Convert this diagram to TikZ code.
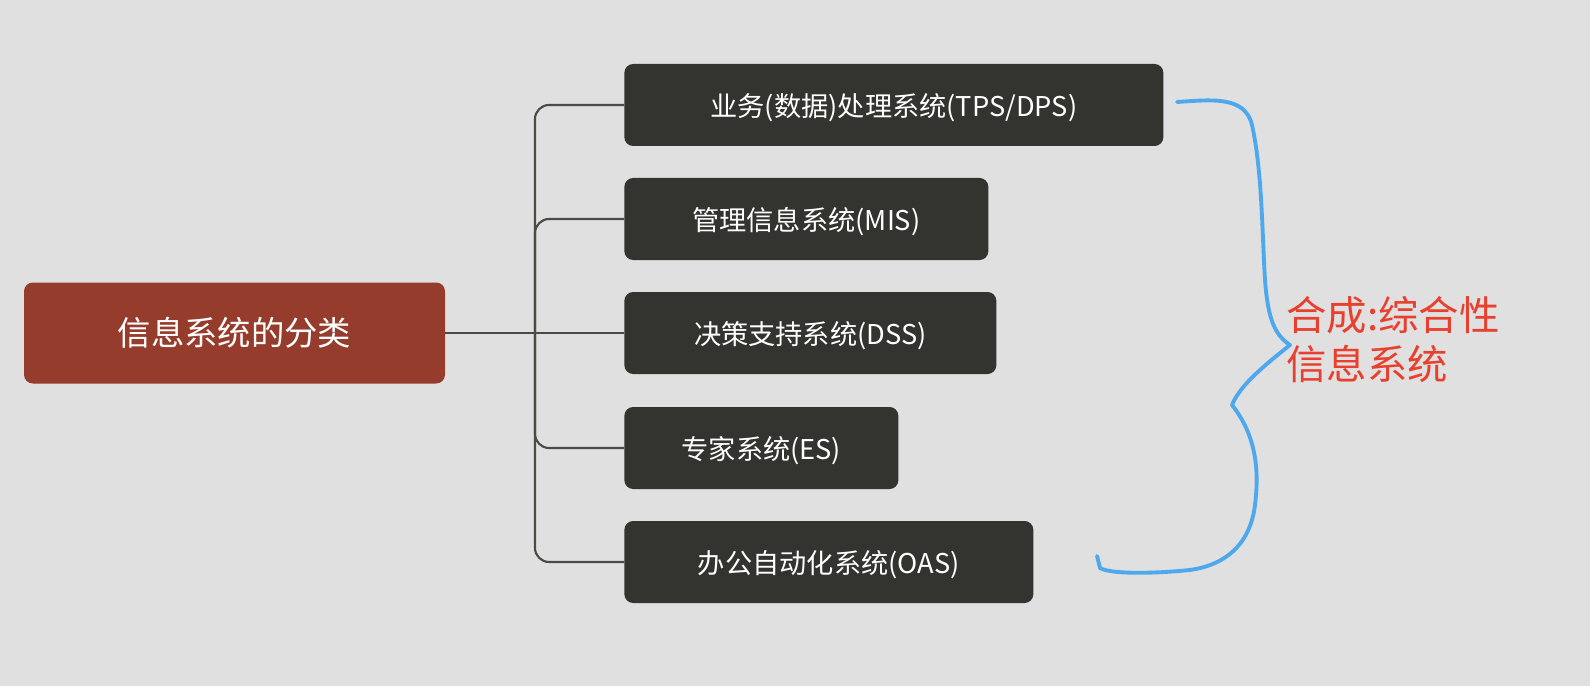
\documentclass[tikz,border=0pt]{standalone}
\usepackage{fontspec}
\setmainfont{Noto Sans CJK SC}
\usetikzlibrary{positioning}
\definecolor{bgcol}{HTML}{E0E0E0}
\definecolor{rootcol}{HTML}{963C2C}
\definecolor{boxcol}{HTML}{33332F}
\definecolor{linecol}{HTML}{4A4A46}
\definecolor{bracecol}{HTML}{4DA8EE}
\definecolor{notecol}{HTML}{E8402F}
\tikzset{
  rootbox/.style={fill=rootcol, rounded corners=5pt, text=white, font=\fontsize{19}{22}\selectfont, minimum width=421*0.02cm, minimum height=101*0.02cm},
  itembox/.style={fill=boxcol, rounded corners=5pt, text=white, font=\fontsize{15.5}{18}\selectfont, anchor=west, minimum height=82*0.02cm, text depth=0pt, inner xsep=0.7cm},
  branch/.style={linecol, line width=1.2pt, rounded corners=8pt}
}
\begin{document}
\begin{tikzpicture}[x=0.02cm, y=-0.02cm]
	% Fondo
		\fill[bgcol] (0,0) rectangle (1590,686);
		\useasboundingbox (0,0) rectangle (1590,686);
	% Nodos
		\node[rootbox] (root) at (234.5,333) {信息系统的分类};
		\node[itembox, minimum width=539*0.02cm] (tps) at (624,105) {业务(数据)处理系统(TPS/DPS)};
		\node[itembox, minimum width=364*0.02cm] (mis) at (624,219) {管理信息系统(MIS)};
		\node[itembox, minimum width=372*0.02cm] (dss) at (624,333) {决策支持系统(DSS)};
		\node[itembox, minimum width=274*0.02cm] (es) at (624,448) {专家系统(ES)};
		\node[itembox, minimum width=409*0.02cm] (oas) at (624,562) {办公自动化系统(OAS)};
		\coordinate (fork) at (535,333);
	% Conectores
		\draw[branch] (root.east) -- (dss.west);
		\draw[branch] (tps.west) -| (fork) |- (oas.west);
		\draw[branch] (mis.west) -| (fork);
		\draw[branch] (es.west) -| (fork);
	% Llave
		\draw[bracecol, line width=2.2pt, line cap=round, line join=round]
			(1177,102) .. controls (1210,100) and (1245,95) .. (1252,125)
			.. controls (1262,170) and (1262,230) .. (1265,280)
			.. controls (1268,320) and (1275,335) .. (1290,345)
			.. controls (1265,365) and (1240,385) .. (1232,405)
			.. controls (1260,440) and (1258,480) .. (1255,505)
			.. controls (1250,545) and (1225,565) .. (1190,570)
			.. controls (1150,574) and (1110,574) .. (1100,568)
			-- (1097,556);
		\node[notecol, font=\fontsize{23}{28}\selectfont, align=left, anchor=west] (note) at (1280,340) {合成:综合性\\信息系统};
\end{tikzpicture}
\end{document}
